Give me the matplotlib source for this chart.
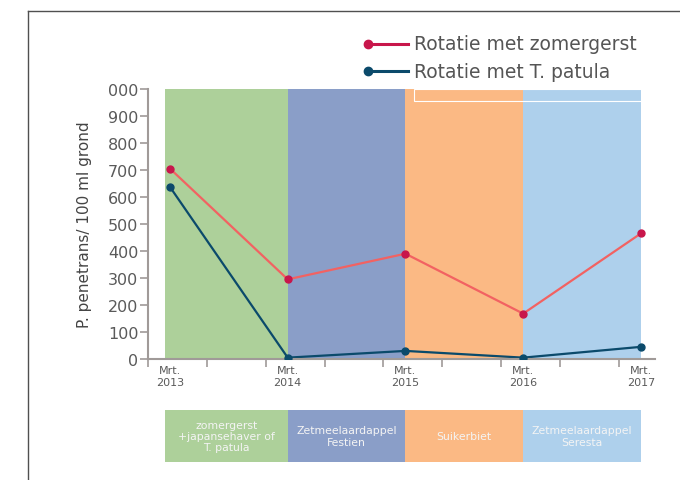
import matplotlib.pyplot as plt
import numpy as np
from matplotlib.lines import Line2D

# data
years = [2013, 2014, 2015, 2016, 2017]
zomergerst = [705, 295, 390, 168, 465]
patula = [637, 5, 30, 5, 45]
band_edges = [2012.96, 2014, 2015, 2016, 2017]
band_colors = ['#add09a', '#8a9ec8', '#fbb984', '#aed0ec']
crops = ['zomergerst\n+japansehaver of\nT. patula', 'Zetmeelaardappel\nFestien',
         'Suikerbiet', 'Zetmeelaardappel\nSeresta']
yticks = list(range(0, 1001, 100))
ylabels = [str(v) for v in yticks[:-1]] + ['000']

W, H = 680, 481
fig = plt.figure(figsize=(W / 100, H / 100), dpi=100)

def fx(px):
    return px / W

def fy(py):
    return 1 - py / H

ax = fig.add_axes([fx(148), fy(360), fx(655) - fx(148), fy(90) - fy(360)])
ax.set_xlim(2012.813, 2017.12)
ax.set_ylim(0, 1000)

for i in range(4):
    ax.axvspan(band_edges[i], band_edges[i + 1], color=band_colors[i], lw=0, zorder=0)

ax.plot(years, zomergerst, color='#f26262', lw=1.6, zorder=2)
ax.plot(years, zomergerst, 'o', color='#c8164b', ms=5, zorder=3)
ax.plot(years, patula, color='#0b4a6b', lw=1.6, zorder=2)
ax.plot(years, patula, 'o', color='#0b4a6b', ms=5, zorder=3)

for s in ['top', 'right']:
    ax.spines[s].set_visible(False)
for s in ['left', 'bottom']:
    ax.spines[s].set_color('#a09a98')
    ax.spines[s].set_linewidth(1.5)

ax.set_yticks(yticks)
ax.set_yticklabels(ylabels, fontsize=11.5, color='#5a5a5a')
ax.tick_params(axis='y', length=6, width=1.2, color='#a09a98', pad=1)
ax.set_xticks(np.arange(2012.813, 2017.0, 0.5))
ax.set_xticklabels([])
ax.tick_params(axis='x', length=6, width=1.2, color='#a09a98')
ax.set_ylabel('P. penetrans/ 100 ml grond', fontsize=11, color='#444444', labelpad=11)

for y in years:
    ax.text(y, -22, 'Mrt.\n%d' % y, ha='center', va='top', fontsize=8,
            color='#5a5a5a', linespacing=1.2)

# faint white outline in the orange band
ax.add_patch(plt.Rectangle((2015.07, 957), 1.98, 42, fill=False, ec='white',
                           lw=0.8, zorder=1))

# crop boxes below the chart
bx = fig.add_axes([fx(148), fy(463), fx(655) - fx(148), fy(411) - fy(463)])
bx.set_xlim(ax.get_xlim())
bx.set_ylim(0, 1)
bx.axis('off')
for i in range(4):
    bx.axvspan(band_edges[i], band_edges[i + 1], color=band_colors[i], lw=0)
    bx.text((band_edges[i] + band_edges[i + 1]) / 2, 0.5, crops[i], ha='center',
            va='center', fontsize=7.8, color='#f4f4f4', linespacing=1.15)

# legend
for py, col, lab in [(45, '#c8164b', 'Rotatie met zomergerst'),
                     (72, '#0b4a6b', 'Rotatie met T. patula')]:
    fig.add_artist(Line2D([fx(368), fx(408)], [fy(py), fy(py)], color=col, lw=2.2))
    fig.add_artist(Line2D([fx(368)], [fy(py)], marker='o', color=col, ms=6))
    fig.text(fx(414), fy(py), lab, fontsize=13.5, color='#555555', va='center')

# frame
fig.add_artist(Line2D([fx(28), fx(28)], [0, fy(12)], color='#505050', lw=1))
fig.add_artist(Line2D([fx(28), 1], [fy(12), fy(12)], color='#505050', lw=1))

fig.savefig('out.png', dpi=100)
